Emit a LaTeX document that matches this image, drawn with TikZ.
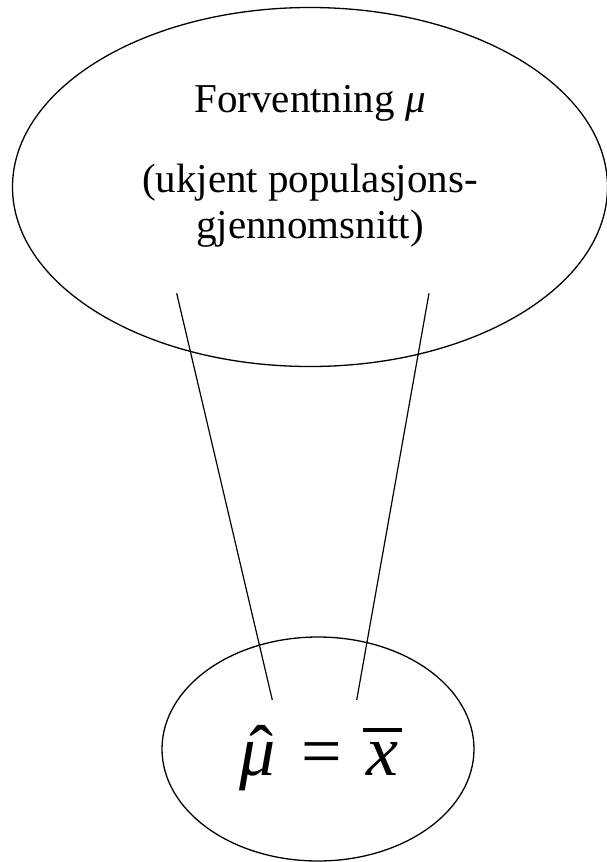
\documentclass[tikz,border=0pt]{standalone}
\usepackage{fontspec}
\setmainfont{Liberation Serif}
\usetikzlibrary{shapes.geometric}
\begin{document}
\begin{tikzpicture}[x=1pt,y=-1pt,
  oval/.style={draw, ellipse, line width=1.3pt, inner sep=0pt},
  lbl/.style={anchor=base, inner sep=0pt, font=\fontsize{41}{49}\selectfont},
  mth/.style={anchor=base, inner sep=0pt, font=\fontsize{72}{80}\selectfont\itshape},
  mthup/.style={anchor=base, inner sep=0pt, font=\fontsize{72}{80}\selectfont},
  link/.style={line width=1.2pt}]
\useasboundingbox (0,0) rectangle (606,862);
\node[oval, minimum width=595pt, minimum height=359pt] (pop) at (310,187) {};
\node[oval, minimum width=312pt, minimum height=224pt] (smp) at (318,749) {};
\node[lbl] (t1) at (310,112) {Forventning \textit{μ}};
\node[lbl] (t2) at (310,192) {(ukjent populasjons-};
\node[lbl] (t3) at (310,238) {gjennomsnitt)};
\node[mth] (mu) at (258,775) {μ};
\node[mthup] (hat) at (261,775) {ˆ};
\node[mthup] (eq) at (322,775) {=};
\node[mth] (xv) at (382,775) {x};
\coordinate (barl) at (363,730);
\coordinate (barr) at (402,730);
\draw[line width=3.5pt] (barl) -- (barr);
\coordinate (a1) at (176.7,293.3);
\coordinate (a2) at (272.3,700);
\coordinate (b1) at (429,293.3);
\coordinate (b2) at (356.7,700);
\draw[link] (a1) -- (a2);
\draw[link] (b1) -- (b2);
\end{tikzpicture}
\end{document}
